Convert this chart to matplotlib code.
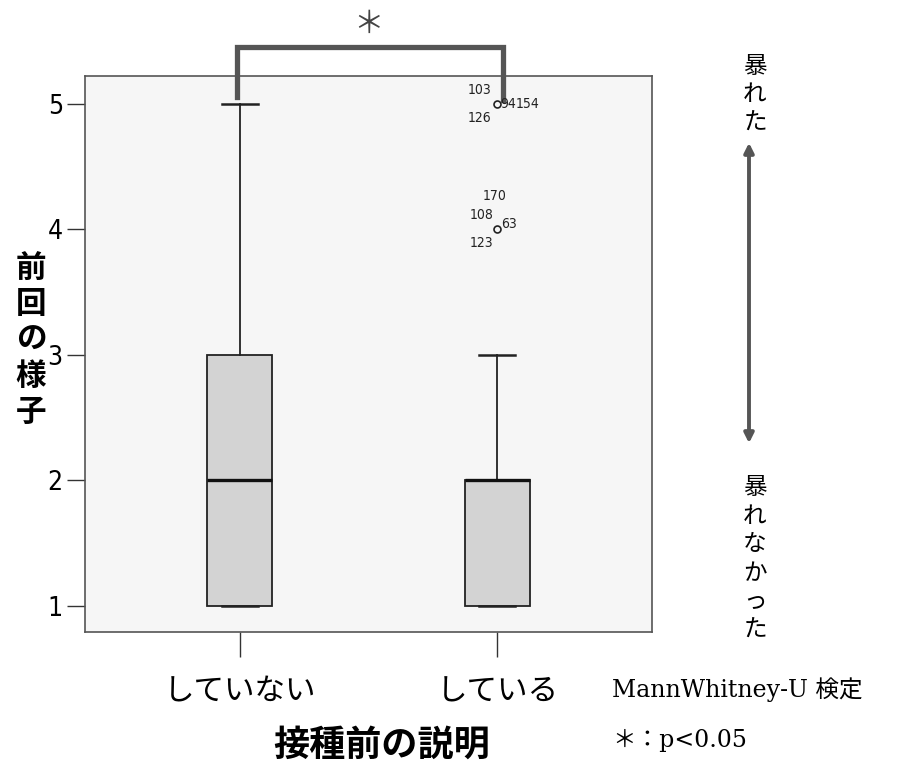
import matplotlib
matplotlib.use("Agg")
import matplotlib.pyplot as plt

# データ
categories = ["していない", "している"]
q1 = [1, 1]
med = [2, 2]
q3 = [3, 2]
whislo = [1, 1]
whishi = [5, 3]
fliers = [[], [5, 4]]

# 外れ値のラベル (カテゴリ番号, 値, ラベル)
outlier_labels = [
    (2, 5, "103"), (2, 5, "94"), (2, 5, "154"), (2, 5, "126"),
    (2, 4, "170"), (2, 4, "108"), (2, 4, "63"), (2, 4, "123"),
]
label_offsets = {
    "103": (-4, 10, "right"), "94": (2, 0, "left"), "154": (13.5, 0, "left"),
    "126": (-4, -10, "right"), "170": (-2, 24, "center"), "108": (-3, 10, "right"),
    "63": (3, 4, "left"), "123": (-3, -10, "right"),
}

yticks = [1, 2, 3, 4, 5]

jp = ["Noto Sans CJK JP", "DejaVu Sans"]
serif = ["DejaVu Serif", "Noto Sans CJK JP"]
dark = "#555555"

fig = plt.figure(figsize=(9.01, 7.66), dpi=100)
ax = fig.add_axes([85 / 901, 1 - 632 / 766, 567 / 901, 556 / 766])
ax.set_facecolor("#f6f6f6")

stats = []
for i in range(len(categories)):
    stats.append(dict(q1=q1[i], med=med[i], q3=q3[i], whislo=whislo[i],
                      whishi=whishi[i], fliers=fliers[i], label=categories[i]))

ax.bxp(stats, positions=[1, 2], widths=0.25, patch_artist=True, showcaps=True,
       capwidths=0.14,
       boxprops=dict(facecolor="#d3d3d3", edgecolor="#222222", linewidth=1.3),
       medianprops=dict(color="#111111", linewidth=2.4),
       whiskerprops=dict(color="#222222", linewidth=1.3),
       capprops=dict(color="#222222", linewidth=1.8),
       flierprops=dict(marker="o", markersize=5, markerfacecolor="none",
                       markeredgecolor="#222222", markeredgewidth=1.2))

for pos, val, lab in outlier_labels:
    dx, dy, ha = label_offsets[lab]
    ax.annotate(lab, (pos, val), xytext=(dx, dy), textcoords="offset points",
                ha=ha, va="center", fontsize=10, family="DejaVu Sans",
                fontstretch="condensed", color="#222222")

ax.set_xlim(0.4, 2.6)
ax.set_ylim(0.79, 5.22)
ax.set_yticks(yticks)
ax.set_yticklabels([str(t) for t in yticks], family="DejaVu Sans",
                   fontstretch="condensed", fontsize=19)
ax.set_xticks([1, 2])
ax.set_xticklabels(categories, family=jp, fontsize=22)
ax.tick_params(axis="y", length=13, width=1, pad=3, color="#333333")
ax.tick_params(axis="x", length=18, width=1, pad=14, color="#333333")
for s in ax.spines.values():
    s.set_color("#555555")
    s.set_linewidth(1.2)

# 有意差のブラケット
ax.plot([0.99, 0.99, 2.02, 2.02], [5.05, 5.45, 5.45, 5.03], color=dark,
        linewidth=3.8, clip_on=False, solid_joinstyle="miter")
ax.text(1.5, 5.63, "＊", ha="center", va="center", fontsize=22, family=serif,
        color="#444444", clip_on=False)

# 軸ラベル
fig.text(31 / 901, 1 - 340 / 766, "前\n回\nの\n様\n子", ha="center", va="center",
         fontsize=22, fontweight="bold", family=jp, linespacing=1.15)
fig.text(382 / 901, 1 - 745 / 766, "接種前の説明", ha="center", va="center",
         fontsize=26, fontweight="bold", family=jp)

# 右側の注釈
fig.text(755 / 901, 1 - 95 / 766, "暴\nれ\nた", ha="center", va="center",
         fontsize=17, family=serif, linespacing=1.3)
fig.text(755 / 901, 1 - 559 / 766, "暴\nれ\nな\nか\nっ\nた", ha="center",
         va="center", fontsize=17, family=serif, linespacing=1.3)
fig.patches.append(matplotlib.patches.FancyArrowPatch(
    (749 / 901, 1 - 140 / 766), (749 / 901, 1 - 446 / 766),
    transform=fig.transFigure, arrowstyle="<|-|>", mutation_scale=14,
    color=dark, linewidth=2.8))

fig.text(612 / 901, 1 - 690 / 766, "MannWhitney-U 検定", ha="left", va="center",
         fontsize=17, family=serif)
fig.text(612 / 901, 1 - 740 / 766, "＊：p<0.05", ha="left", va="center",
         fontsize=17, family=serif)

fig.savefig("out.png", dpi=100)
